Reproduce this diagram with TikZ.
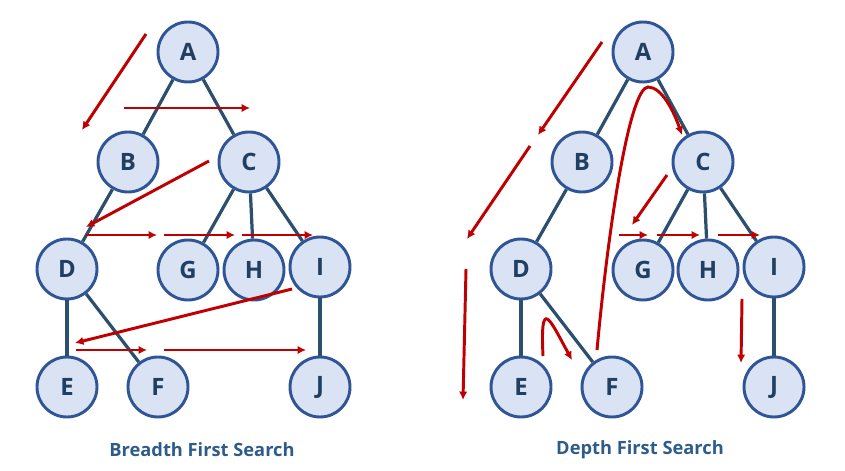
\documentclass[tikz,border=0pt]{standalone}
\usepackage{fontspec}
\setmainfont{Open Sans}
\usetikzlibrary{arrows.meta}

\definecolor{vfill}{HTML}{DAE3F3}
\definecolor{vline}{HTML}{2F5597}
\definecolor{tline}{HTML}{2C4F6E}
\definecolor{vtext}{HTML}{1F3F63}
\definecolor{ttext}{HTML}{2E5C8A}
\definecolor{trailred}{HTML}{C00000}

\begin{document}
\begin{tikzpicture}[x=0.025cm, y=-0.025cm,
    vertex/.style={circle, draw=vline, fill=vfill, line width=2.1pt, minimum size=1.5cm, inner sep=0pt,
        text=vtext, font=\fontsize{17}{20}\selectfont\bfseries},
    edge/.style={draw=tline, line width=2.3pt},
    trail/.style={draw=trailred, line width=2.1pt, -{Latex[length=6pt, width=6pt]}},
    caption/.style={text=ttext, font=\fontsize{13}{15}\selectfont\bfseries}]
    \useasboundingbox (0,0) rectangle (845,471);

    % Draw breadth first tree
    \foreach \n/\x/\y in {A/188/52, B/128/162, C/249/162, D/67/269, G/188/270,
        H/254/270, I/320/267, E/67/387, F/158/387, J/320/387} {
        \node[vertex] (b\n) at (\x,\y) {\n};
    }
    \foreach \a/\b in {A/B, A/C, B/D, C/G, C/H, C/I, D/E, D/F, I/J} {
        \draw[edge] (b\a) -- (b\b);
    }

    % Draw depth first tree
    \foreach \n/\x/\y in {A/643/52, B/582/162, C/703/162, D/521/269, G/643/270,
        H/708/270, I/774/267, E/521/387, F/612/387, J/774/387} {
        \node[vertex] (d\n) at (\x,\y) {\n};
    }
    \foreach \a/\b in {A/B, A/C, B/D, C/G, C/H, C/I, D/E, D/F, I/J} {
        \draw[edge] (d\a) -- (d\b);
    }

    % Breadth first order
    \foreach \i/\xa/\ya/\xb/\yb in {1/146/34/82/130, 2/124/108/250/108, 3/209/161/86/227,
        4/86/235/157/235, 5/164/235/235/235, 6/242/235/313/235,
        7/292/289/75/343, 8/76/350/147/350, 9/164/350/306/350} {
        \coordinate (bs\i) at (\xa,\ya);
        \coordinate (be\i) at (\xb,\yb);
        \draw[trail] (bs\i) -- (be\i);
    }

    % Depth first order
    \foreach \i/\xa/\ya/\xb/\yb in {1/602/42/538/135, 2/530/146/467/239, 3/466/269/463/400,
        6/667/175/632/225, 7/619/235/648/235, 8/657/235/700/235,
        9/718/235/760/235, 10/742/299/741/363} {
        \coordinate (ds\i) at (\xa,\ya);
        \coordinate (de\i) at (\xb,\yb);
        \draw[trail] (ds\i) -- (de\i);
    }
    \coordinate (ds4) at (543,356);
    \coordinate (de4) at (572,360);
    \draw[trail] (ds4) .. controls (540,295) and (550,320) .. (de4);
    \coordinate (ds5) at (597,350);
    \coordinate (dm5) at (648,87);
    \coordinate (de5) at (682,135);
    \draw[trail] (ds5) .. controls (609,220) and (630,88) .. (dm5)
        .. controls (662,87) and (674,112) .. (de5);

    % Titles
    \node[caption] (btitle) at (202,450) {Breadth First Search};
    \node[caption] (dtitle) at (640,450) {Depth First Search};
\end{tikzpicture}
\end{document}
